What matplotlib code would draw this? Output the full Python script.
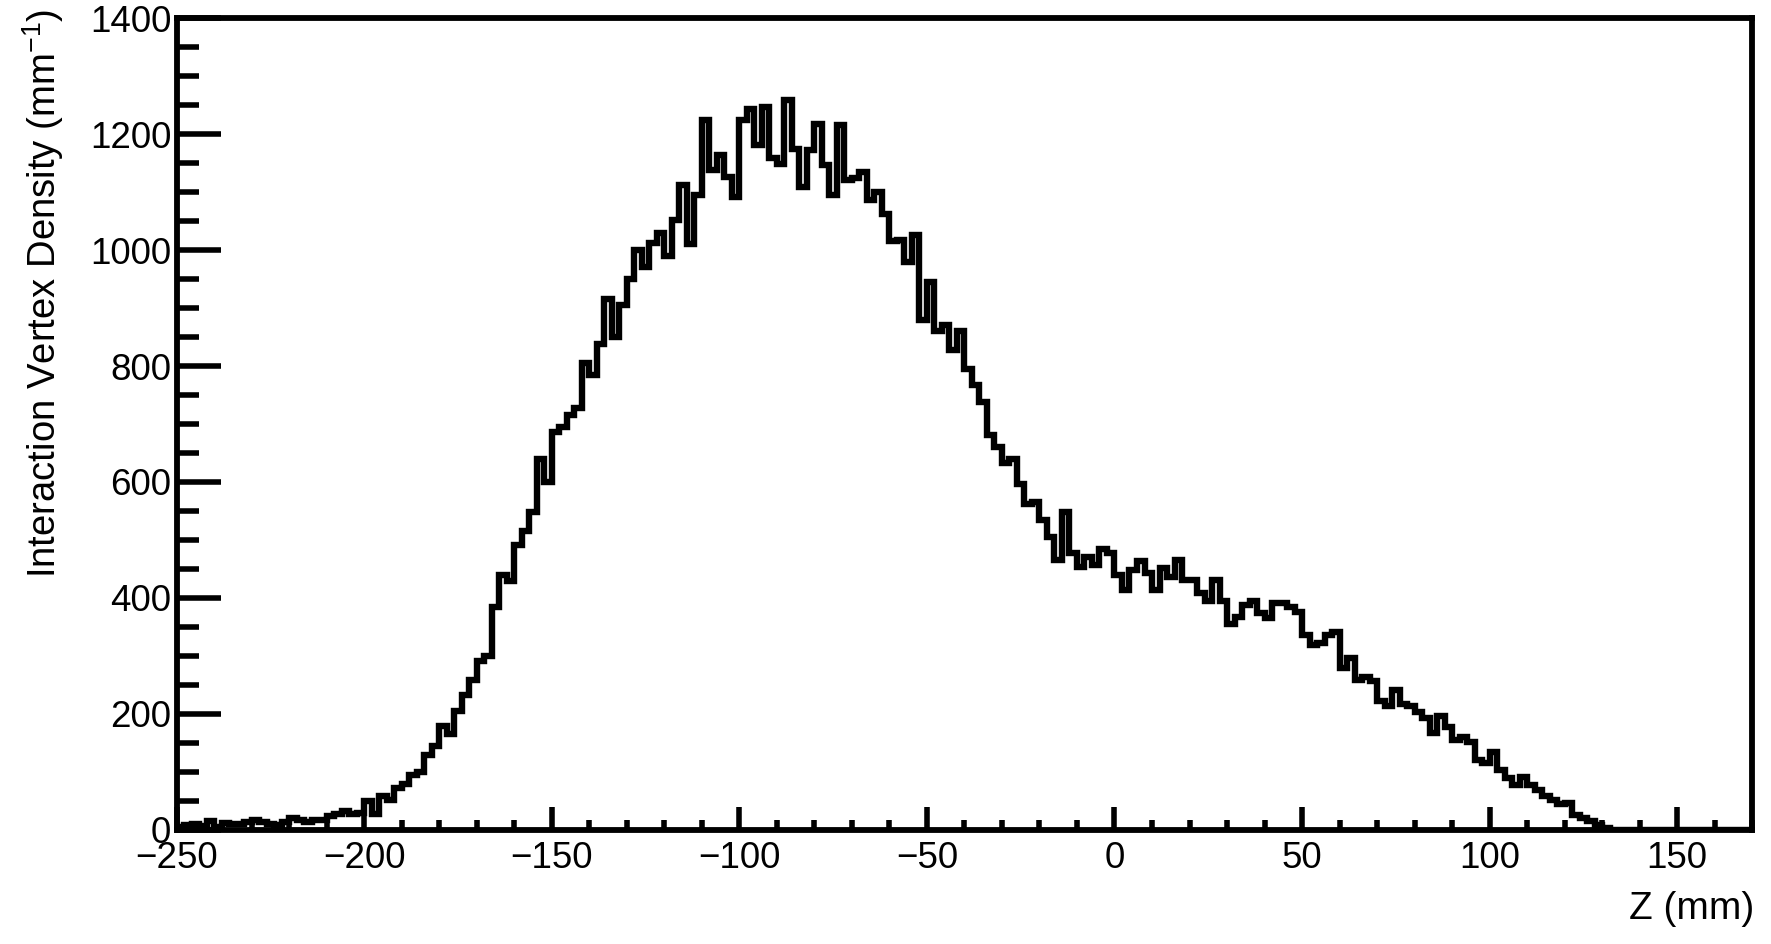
import numpy as np
import matplotlib

matplotlib.use("Agg")
import matplotlib.pyplot as plt
from matplotlib.ticker import MultipleLocator

# 2 mm bins from -250 mm to 170 mm
Z_LOW = -250
Z_HIGH = 170
BIN_WIDTH = 2
DENSITY = [
    5, 8, 10, 6, 15, 5, 12, 11, 10, 13,                              # -250 .. -232
    17, 13, 10, 9, 14, 20, 17, 14, 18, 18,                           # -230 .. -212
    24, 27, 33, 27, 30, 50, 28, 58, 52, 72,                          # -210 .. -192
    80, 94, 100, 130, 145, 180, 165, 205, 233, 258,                  # -190 .. -172
    292, 300, 385, 440, 430, 492, 515, 548, 640, 600,                # -170 .. -152
    686, 695, 715, 728, 805, 785, 838, 915, 850, 905,                # -150 .. -132
    950, 1000, 970, 1012, 1030, 990, 1052, 1112, 1010, 1095,         # -130 .. -112
    1225, 1138, 1164, 1126, 1092, 1224, 1244, 1181, 1247, 1158,      # -110 .. -92
    1149, 1259, 1175, 1109, 1172, 1218, 1146, 1095, 1215, 1121,      # -90 .. -72
    1124, 1135, 1086, 1100, 1062, 1015, 1018, 980, 1026, 880,        # -70 .. -52
    945, 860, 870, 828, 860, 795, 768, 738, 681, 660,                # -50 .. -32
    632, 640, 597, 562, 566, 534, 505, 465, 549, 477,                # -30 .. -12
    454, 471, 457, 485, 477, 440, 414, 448, 463, 443,                # -10 .. 8
    414, 451, 437, 465, 431, 431, 408, 394, 431, 394,                # 10 .. 28
    356, 368, 388, 394, 374, 365, 391, 391, 385, 376,                # 30 .. 48
    336, 319, 322, 336, 342, 279, 296, 259, 264, 256,                # 50 .. 68
    222, 213, 241, 218, 213, 204, 193, 167, 196, 178,                # 70 .. 88
    155, 161, 152, 121, 115, 135, 103, 89, 77, 92,                   # 90 .. 108
    77, 69, 58, 52, 45, 46, 26, 20, 15, 9,                           # 110 .. 128
    3, 0, 0, 0, 0, 0, 0, 0, 0, 0,                                    # 130 .. 148
    0, 0, 0, 0, 0, 0, 0, 0, 0, 0,                                    # 150 .. 168
]

X_LABEL = "Z (mm)"
Y_LABEL = r"Interaction Vertex Density (mm$^{-1}$)"

plt.rcParams["font.family"] = ["Liberation Sans", "DejaVu Sans"]
plt.rcParams["mathtext.default"] = "regular"

LW_HIST = 4.6
LW_FRAME = 4.2

fig = plt.figure(figsize=(17.71, 9.44), dpi=100)
ax = fig.add_axes([0.0999, 0.1208, 0.8894, 0.8601])

edges = np.arange(Z_LOW, Z_HIGH + BIN_WIDTH, BIN_WIDTH)
ax.stairs(DENSITY, edges, baseline=None, color="black", linewidth=LW_HIST)

ax.set_xlim(Z_LOW, Z_HIGH)
ax.set_ylim(0, 1400)

for spine in ax.spines.values():
    spine.set_linewidth(LW_FRAME)
    spine.set_color("black")

ax.xaxis.set_major_locator(MultipleLocator(50))
ax.xaxis.set_minor_locator(MultipleLocator(10))
ax.yaxis.set_major_locator(MultipleLocator(200))
ax.yaxis.set_minor_locator(MultipleLocator(50))

ax.tick_params(which="both", direction="in", top=False, right=False,
               width=4.0, color="black")
ax.tick_params(axis="x", which="major", length=16.5, pad=8, labelsize=26.5)
ax.tick_params(axis="x", which="minor", length=7.5)
ax.tick_params(axis="y", which="major", length=32, pad=4, labelsize=26.5)
ax.tick_params(axis="y", which="minor", length=16)

fig.text(1754 / 1771, 1 - 909 / 944, X_LABEL, ha="right", va="center",
         fontsize=28)
fig.text(43 / 1771, 1 - 293 / 944, Y_LABEL, ha="center", va="center",
         rotation=90, fontsize=27.5)

fig.savefig("out.png", dpi=100, facecolor="white")
